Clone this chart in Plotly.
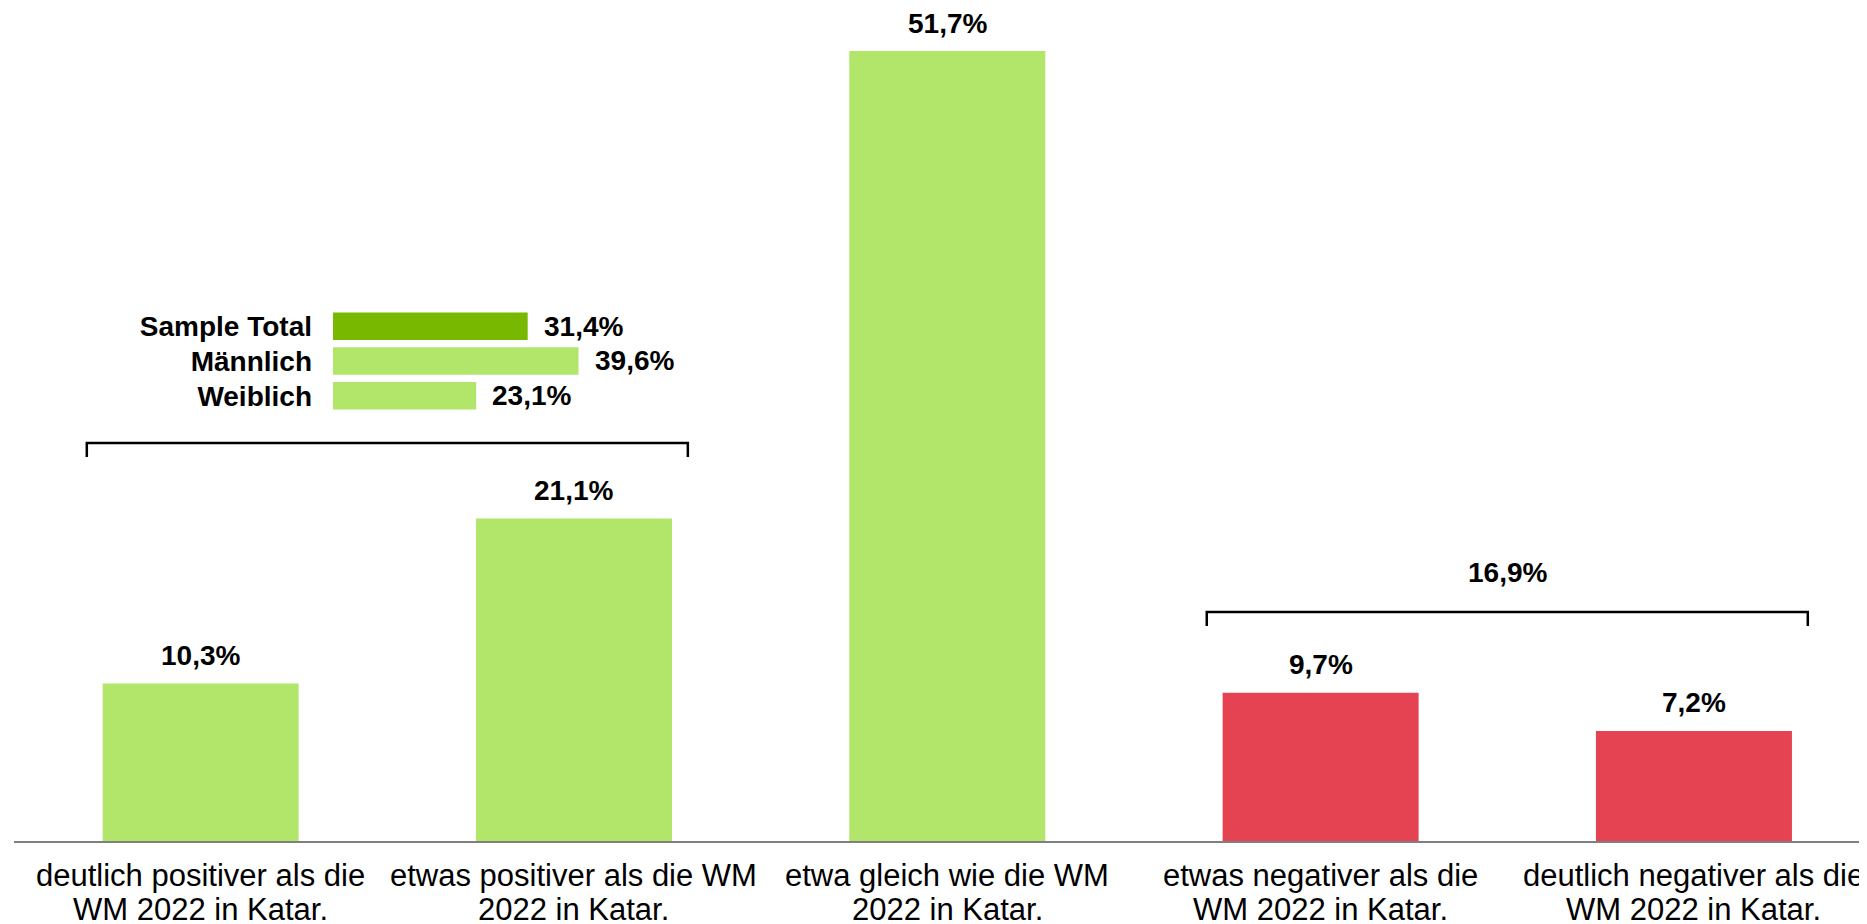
import plotly.graph_objects as go

# ---------------- data ----------------
categories = [
    "deutlich positiver als die<br>WM 2022 in Katar.",
    "etwas positiver als die WM<br>2022 in Katar.",
    "etwa gleich wie die WM<br>2022 in Katar.",
    "etwas negativer als die<br>WM 2022 in Katar.",
    "deutlich negativer als die<br>WM 2022 in Katar.",
]
values = [10.3, 21.1, 51.7, 9.7, 7.2]
positive_group = [0, 1]
negative_group = [3, 4]

inset_labels = ["Sample Total", "Männlich", "Weiblich"]
inset_values = [31.4, 39.6, 23.1]

# ---------------- style ----------------
LIGHT_GREEN = "#B2E66B"
DARK_GREEN = "#78B800"
RED = "#E64352"
FONT = "Liberation Sans, Arial, sans-serif"
W, H = 1867, 924
ML, MR, MT, MB = 6, 0, 0, 91
PLOT_H = H - MT - MB
PLOT_W = W - ML - MR
PX_PER_UNIT = 790 / 51.7
Y_MAX = PLOT_H / PX_PER_UNIT

bar_colors = [LIGHT_GREEN if i not in negative_group else RED for i in range(len(values))]
inset_colors = [DARK_GREEN, LIGHT_GREEN, LIGHT_GREEN]


def fmt(v):
    return f"{v:.1f}".replace(".", ",") + "%"


x_idx = list(range(len(categories)))

fig = go.Figure()
fig.add_trace(go.Bar(
    x=x_idx, y=values, marker=dict(color=bar_colors, line=dict(width=0)),
    width=0.525, showlegend=False, hoverinfo="skip",
))

# inset horizontal bars
fig.add_trace(go.Bar(
    y=inset_labels, x=inset_values, orientation="h", xaxis="x2", yaxis="y2",
    marker=dict(color=inset_colors, line=dict(width=0)), width=0.79,
    showlegend=False, hoverinfo="skip",
))

annotations = []
# value labels above main bars
for i, v in zip(x_idx, values):
    annotations.append(dict(
        x=i, y=v, xref="x", yref="y", text=fmt(v), showarrow=False,
        yanchor="middle", yshift=28,
        font=dict(family=FONT, size=28, color="#000", weight="bold"),
    ))
# category labels (two lines each)
for i, cat in zip(x_idx, categories):
    lines = cat.split("<br>")
    for k, line in enumerate(lines):
        annotations.append(dict(
            x=i, y=0, xref="x", yref="paper", text=line, showarrow=False,
            yanchor="middle", yshift=-34 - 34 * k,
            font=dict(family=FONT, size=31, color="#000"),
        ))
# inset value labels
for lab, v in zip(inset_labels, inset_values):
    annotations.append(dict(
        x=v, y=lab, xref="x2", yref="y2", text=fmt(v), showarrow=False,
        xanchor="left", xshift=14,
        font=dict(family=FONT, size=28, color="#000", weight="bold"),
    ))

# brackets
EXT = 0.305
TICK = 14 / PX_PER_UNIT
shapes = []
bracket_levels = {"pos": 26.05, "neg": 14.99}
for key, grp in (("pos", positive_group), ("neg", negative_group)):
    x0 = min(grp) - EXT
    x1 = max(grp) + EXT
    y = bracket_levels[key]
    shapes.append(dict(
        type="path", xref="x", yref="y",
        path=f"M {x0},{y - TICK} L {x0},{y} L {x1},{y} L {x1},{y - TICK}",
        line=dict(color="#000", width=2.5),
    ))
# sum label above negative bracket
neg_sum = sum(values[i] for i in negative_group)
annotations.append(dict(
    x=(min(negative_group) + max(negative_group)) / 2, y=bracket_levels["neg"],
    xref="x", yref="y", text=fmt(neg_sum), showarrow=False,
    yanchor="middle", yshift=39,
    font=dict(family=FONT, size=28, color="#000", weight="bold"),
))


def px_to_paper_x(px):
    return (px - ML) / PLOT_W


def px_to_paper_y(py):
    return (MT + PLOT_H - py) / PLOT_H


inset_x0 = 325
inset_scale = 6.2  # px per percent
inset_xmax = 50
fig.update_layout(
    width=W, height=H,
    margin=dict(l=ML, r=MR, t=MT, b=MB),
    paper_bgcolor="white", plot_bgcolor="white",
    font=dict(family=FONT, color="#000"),
    xaxis=dict(range=[-0.5, 4.485], showticklabels=False, showgrid=False,
               zeroline=False, showline=True, linecolor="#7F7F7F", linewidth=2,
               ticks="", fixedrange=True),
    yaxis=dict(range=[0, Y_MAX], visible=False, fixedrange=True),
    xaxis2=dict(domain=[px_to_paper_x(inset_x0), px_to_paper_x(inset_x0 + inset_scale * inset_xmax)],
                range=[0, inset_xmax], anchor="y2", visible=False, fixedrange=True),
    yaxis2=dict(domain=[px_to_paper_y(405.2), px_to_paper_y(300.8)],
                anchor="x2", autorange="reversed", showgrid=False, zeroline=False,
                showline=False, ticks="", ticklabelstandoff=20,
                tickfont=dict(family=FONT, size=28, color="#000", weight="bold"),
                fixedrange=True),
    annotations=annotations,
    shapes=shapes,
    bargap=0.475,
)

fig.write_html("out.html")
